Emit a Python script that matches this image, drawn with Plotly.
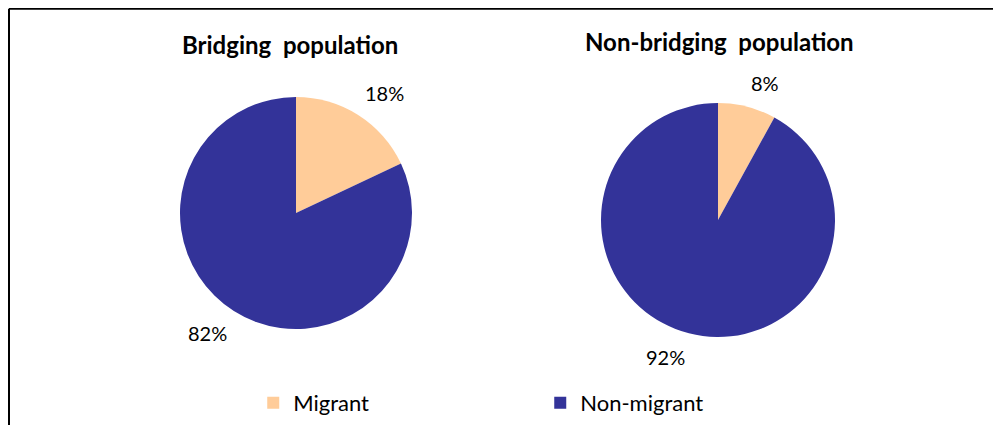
import math
import plotly.graph_objects as go

labels = ["Migrant", "Non-migrant"]
bridging = [18, 82]
non_bridging = [8, 92]
titles = ["Bridging\u00a0 population", "Non-bridging\u00a0 population"]
colors = ["#FFCC99", "#333399"]

FONT = "Lato"
W, H = 1001, 425

# pie geometry in pixels: (center x, center y from top, radius)
pies = [(288, 205, 116), (710, 212, 117)]
# title centres in pixels
title_pos = [(282, 36), (711, 34)]
series = [bridging, non_bridging]
LABEL_GAP = 11

fig = go.Figure()

for i, (vals, (cx, cy, r)) in enumerate(zip(series, pies)):
    fig.add_trace(go.Pie(
        labels=labels,
        values=vals,
        sort=False,
        direction="clockwise",
        rotation=0,
        marker=dict(colors=colors),
        textinfo="none",
        domain=dict(x=[(cx - r) / W, (cx + r) / W],
                    y=[(H - cy - r) / H, (H - cy + r) / H]),
        hoverinfo="label+percent",
        showlegend=(i == 0),
    ))

    # percentage labels outside each slice, at the slice's mid angle
    total = sum(vals)
    start = 0.0
    for v in vals:
        mid = (start + v / 2) / total * 2 * math.pi
        start += v
        d = r + LABEL_GAP
        sx, cy_ = math.sin(mid), math.cos(mid)
        fig.add_annotation(
            text=f"{round(v / total * 100)}%",
            x=(cx + d * sx) / W, y=(H - cy + d * cy_) / H,
            xref="paper", yref="paper",
            xanchor="left" if sx >= 0 else "right",
            yanchor="bottom" if cy_ >= 0 else "top",
            showarrow=False, borderpad=0,
            font=dict(family=FONT, size=20, color="black"),
        )

    tx, ty = title_pos[i]
    fig.add_annotation(
        text="<b>" + titles[i] + "</b>",
        x=tx / W, y=(H - ty) / H,
        xref="paper", yref="paper", xanchor="center", yanchor="middle",
        showarrow=False, font=dict(family=FONT, size=24, color="black"),
    )

# frame (top and left edges)
fig.add_shape(type="line", xref="paper", yref="paper",
              x0=0.001, x1=1, y0=0.998, y1=0.998,
              line=dict(color="black", width=2))
fig.add_shape(type="line", xref="paper", yref="paper",
              x0=0.001, x1=0.001, y0=0, y1=0.998,
              line=dict(color="black", width=2))

fig.update_layout(
    width=W,
    height=H,
    margin=dict(l=0, r=0, t=0, b=0),
    paper_bgcolor="white",
    plot_bgcolor="white",
    font=dict(family=FONT, size=22, color="black"),
    legend=dict(
        orientation="h",
        x=0.245, xanchor="left",
        y=0.0215, yanchor="bottom",
        entrywidth=242, entrywidthmode="pixels",
        font=dict(family=FONT, size=22, color="black"),
        bgcolor="rgba(0,0,0,0)",
    ),
)

fig.write_html("out.html")
